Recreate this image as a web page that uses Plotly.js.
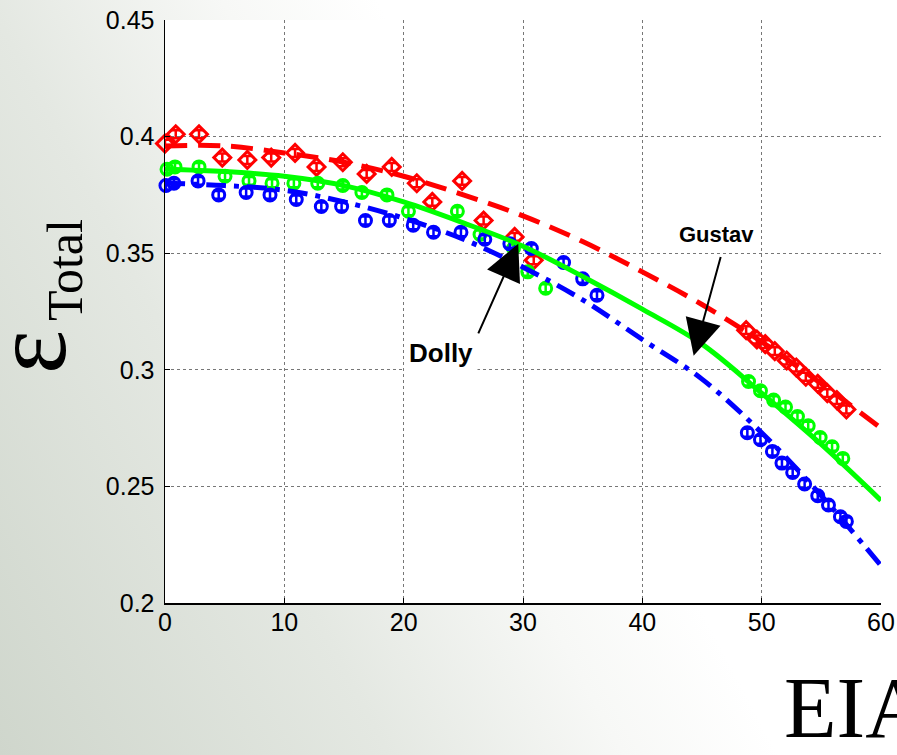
<!DOCTYPE html>
<html>
<head>
<meta charset="utf-8">
<script src="https://cdn.plot.ly/plotly-3.0.1.min.js"></script>
<style>
  html, body { margin:0; padding:0; }
  body { width:897px; height:755px; overflow:hidden;
    background: linear-gradient(62deg, #cfd6cc 0%, #e4e8e2 30%, #f7f8f6 48%, #ffffff 60%); }
  #chart { width:897px; height:755px; }
</style>
</head>
<body>
<div id="chart"></div>
<script>
// ---- data ----
const lineX = [0, 5, 10, 15, 20, 25, 30, 35, 40, 45, 50, 55, 60];
const redLine   = [0.396, 0.396, 0.393, 0.389, 0.383, 0.375, 0.366, 0.355, 0.342, 0.328, 0.312, 0.294, 0.275];
const greenLine = [0.386, 0.385, 0.383, 0.379, 0.372, 0.363, 0.353, 0.340, 0.326, 0.311, 0.290, 0.268, 0.244];
const blueLine  = [0.380, 0.379, 0.377, 0.372, 0.365, 0.356, 0.344, 0.330, 0.313, 0.296, 0.273, 0.246, 0.216];

const redX = [0, 0.9, 2.85, 4.8, 6.9, 8.9, 10.9, 12.7, 14.9, 16.9, 19.0, 21.1, 22.4, 24.9, 26.7, 29.3, 30.9,
              48.7, 49.6, 50.3, 51.1, 52.1, 52.9, 53.7, 54.7, 55.5, 56.3, 57.1];
const redY = [0.397, 0.401, 0.401, 0.391, 0.390, 0.391, 0.393, 0.387, 0.389, 0.384, 0.387, 0.380, 0.372, 0.381, 0.364, 0.357, 0.347,
              0.317, 0.313, 0.311, 0.308, 0.304, 0.301, 0.297, 0.294, 0.290, 0.287, 0.283];

const greenX = [0.17, 0.84, 2.85, 5.03, 7.04, 8.97, 10.8, 12.8, 14.9, 16.5, 18.6, 20.4, 24.5, 26.4, 29.2, 30.4, 31.9,
                48.9, 49.9, 51.0, 52.0, 53.0, 53.9, 54.9, 55.9, 56.8];
const greenY = [0.386, 0.387, 0.387, 0.383, 0.381, 0.380, 0.380, 0.380, 0.379, 0.376, 0.375, 0.368, 0.368, 0.358, 0.352, 0.342, 0.335,
                0.295, 0.291, 0.287, 0.284, 0.280, 0.276, 0.271, 0.267, 0.262];

const blueX = [0.08, 0.75, 2.77, 4.5, 6.8, 8.8, 11.0, 13.1, 14.8, 16.8, 18.8, 20.8, 22.5, 24.8, 26.8, 28.9, 30.7, 33.4, 35.0, 36.2,
               48.8, 49.9, 50.9, 51.7, 52.6, 53.6, 54.7, 55.6, 56.6, 57.1];
const blueY = [0.379, 0.380, 0.381, 0.375, 0.376, 0.375, 0.373, 0.370, 0.370, 0.364, 0.364, 0.362, 0.359, 0.359, 0.356, 0.354, 0.352, 0.346, 0.339, 0.332,
               0.273, 0.270, 0.265, 0.260, 0.256, 0.251, 0.246, 0.242, 0.237, 0.235];

const xTicks = [0, 10, 20, 30, 40, 50, 60];
const yTicks = [0.2, 0.25, 0.3, 0.35, 0.4, 0.45];
const yTickText = ['0.2', '0.25', '0.3', '0.35', '0.4', '0.45'];

// ---- traces ----
function markerTrace(x, y, color, symbol, size) {
  return {
    x: x, y: y, type: 'scatter', mode: 'markers', showlegend: false, cliponaxis: false,
    marker: { symbol: symbol, size: size, color: color, line: { color: color, width: 3 } },
    error_y: { type: 'constant', value: 0.0017, color: color, thickness: 2.5, width: 4 }
  };
}
const traces = [
  markerTrace(redX, redY, '#ff0000', 'diamond-open', 13),
  markerTrace(greenX, greenY, '#00ff00', 'circle-open', 12),
  markerTrace(blueX, blueY, '#0000ff', 'circle-open', 12),
  { x: lineX, y: redLine, type: 'scatter', mode: 'lines', showlegend: false,
    line: { color: '#ff0000', width: 5, dash: '22px,11px', shape: 'spline' } },
  { x: lineX, y: greenLine, type: 'scatter', mode: 'lines', showlegend: false,
    line: { color: '#00ff00', width: 5, shape: 'spline' } },
  { x: lineX, y: blueLine, type: 'scatter', mode: 'lines', showlegend: false,
    line: { color: '#0000ff', width: 5, dash: '20px,8px,5px,8px', shape: 'spline' } }
];

const tickFont = { family: 'Liberation Sans, Arial, sans-serif', size: 25, color: '#000' };
const serif = 'Liberation Serif, Times New Roman, serif';

const layout = {
  width: 897, height: 755,
  margin: { l: 165, r: 16, t: 20, b: 152, pad: 0 },
  paper_bgcolor: 'rgba(0,0,0,0)',
  plot_bgcolor: '#ffffff',
  showlegend: false,
  xaxis: {
    range: [0, 60], tickvals: xTicks, ticks: 'inside', ticklen: 5, tickcolor: '#000',
    showline: true, linecolor: '#000', linewidth: 1.5, zeroline: false,
    showgrid: true, gridcolor: '#777', griddash: 'dot', gridwidth: 1,
    tickfont: tickFont, ticklabelstandoff: -4
  },
  yaxis: {
    range: [0.2, 0.45], tickvals: yTicks, ticktext: yTickText, ticks: 'inside', ticklen: 5, tickcolor: '#000',
    showline: true, linecolor: '#000', linewidth: 1.5, zeroline: false,
    showgrid: true, gridcolor: '#777', griddash: 'dot', gridwidth: 1,
    tickfont: tickFont, ticklabelstandoff: 4
  },
  annotations: [
    // y-axis label: ε with subscript "Total"
    { x: -0.190, y: 0.4305, xref: 'paper', yref: 'paper', xanchor: 'center', yanchor: 'middle',
      textangle: -90, showarrow: false, text: 'ε',
      font: { family: serif, size: 105, color: '#000' } },
    { x: -0.1397, y: 0.571, xref: 'paper', yref: 'paper', xanchor: 'center', yanchor: 'middle',
      textangle: -90, showarrow: false, text: 'Total',
      font: { family: serif, size: 50, color: '#000' } },
    { x: 46.2, y: 0.358, xref: 'x', yref: 'y', text: '<b>Gustav</b>', showarrow: false,
      font: { family: 'Liberation Sans, Arial, sans-serif', size: 22, color: '#000' } },
    { x: 44.3, y: 0.306, xref: 'x', yref: 'y', ax: 46.6, ay: 0.349, axref: 'x', ayref: 'y',
      text: '', showarrow: true, arrowhead: 2, arrowsize: 3.6, arrowwidth: 2, arrowcolor: '#000' },
    { x: 23.1, y: 0.307, xref: 'x', yref: 'y', text: '<b>Dolly</b>', showarrow: false,
      bgcolor: '#ffffff', borderpad: 4,
      font: { family: 'Liberation Sans, Arial, sans-serif', size: 26, color: '#000' } },
    { x: 29.6, y: 0.354, xref: 'x', yref: 'y', ax: 26.2, ay: 0.315, axref: 'x', ayref: 'y',
      text: '', showarrow: true, arrowhead: 2, arrowsize: 3.6, arrowwidth: 2, arrowcolor: '#000' },
    { x: 0.862, y: -0.18, xref: 'paper', yref: 'paper', xanchor: 'left', yanchor: 'middle',
      text: 'EIA', showarrow: false,
      font: { family: serif, size: 86, color: '#000' } }
  ]
};

Plotly.newPlot('chart', traces, layout, { displayModeBar: false, staticPlot: true });
</script>
</body>
</html>
